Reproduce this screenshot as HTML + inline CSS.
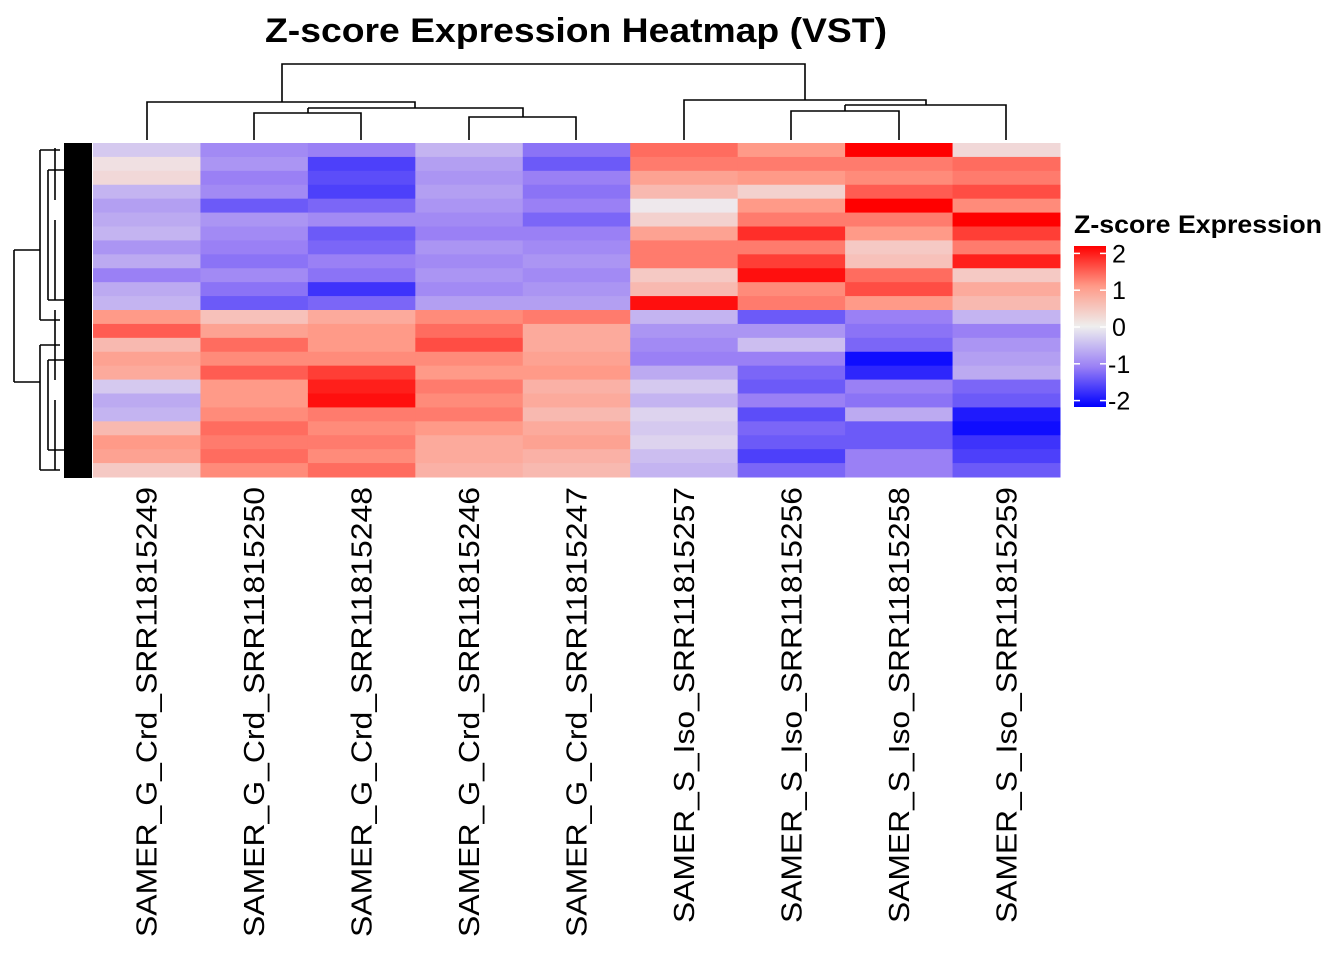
<!DOCTYPE html>
<html><head><meta charset="utf-8"><style>
html,body{margin:0;padding:0;background:#fff;}
svg{display:block;font-family:"Liberation Sans",Arial,sans-serif;}
</style></head><body>
<svg id="chart" width="1344" height="960" viewBox="0 0 1344 960" xmlns="http://www.w3.org/2000/svg">
<text x="265" y="42" font-size="34" font-weight="bold" textLength="622" lengthAdjust="spacingAndGlyphs">Z-score Expression Heatmap (VST)</text>
<g id="heat"></g>
<g id="coldend" stroke="#000" stroke-width="1.6" fill="none">
<path d="M147,140V102H415V108 M282,102V64H805V100 M308,108V113 M254,140V113H361V140 M308,108H523V117 M469,140V117H576V140 M415,102V108"/>
<path d="M684,140V100H926V105 M845,105H1006V140 M791,140V111H899V140 M845,111V105"/>
</g>
<g id="rowdend" stroke="#000" stroke-width="1.6" fill="none">
<path d="M14,250V382 M14,250H40 M14,382H40 M40,150V320 M40,345V470 M40,150H60 M40,320H60 M40,345H60 M40,470H60 M48,170V300 M48,360V450 M48,170H65 M48,300H65 M48,360H65 M48,450H65 M55,148V200 M55,220V300 M55,310V380 M55,400V470"/>
<rect x="64" y="143" width="28" height="335" fill="#000" stroke="none"/>
</g>
<g id="labels"></g>
<g id="legend">
<text x="1074" y="233" font-size="25" font-weight="bold" textLength="248" lengthAdjust="spacingAndGlyphs">Z-score Expression</text>
<defs><linearGradient id="lg" x1="0" y1="0" x2="0" y2="1">
<stop offset="0" stop-color="#ff0000"/><stop offset="0.25" stop-color="#ff9a88"/><stop offset="0.5" stop-color="#eeeeee"/><stop offset="0.75" stop-color="#9a80f5"/><stop offset="1" stop-color="#0000ff"/></linearGradient></defs>
<rect x="1074" y="246" width="32" height="161" fill="url(#lg)"/>
<g id="legticks"></g>
</g>
</svg>
<script>
const samples = ["SAMER_G_Crd_SRR11815249","SAMER_G_Crd_SRR11815250","SAMER_G_Crd_SRR11815248","SAMER_G_Crd_SRR11815246","SAMER_G_Crd_SRR11815247","SAMER_S_Iso_SRR11815257","SAMER_S_Iso_SRR11815256","SAMER_S_Iso_SRR11815258","SAMER_S_Iso_SRR11815259"];
const col249 = [-0.3,0.1,0.2,-0.5,-0.7,-0.6,-0.5,-0.8,-0.6,-1.0,-0.6,-0.5, 1.0,1.4,0.6,0.9,0.8,-0.3,-0.6,-0.5,0.6,1.0,0.9,0.4];
const col250 = [-0.9,-0.8,-1.0,-0.9,-1.3,-0.8,-0.9,-1.0,-1.1,-0.9,-1.1,-1.3, 0.5,0.9,1.3,1.1,1.4,1.0,1.0,1.1,1.3,1.2,1.3,1.1];
const col248 = [-1.0,-1.5,-1.4,-1.5,-1.2,-0.9,-1.3,-1.2,-1.0,-1.1,-1.6,-1.2, 0.8,1.0,1.0,1.1,1.6,1.8,1.9,1.2,1.1,1.2,1.1,1.3];
const col246 = [-0.5,-0.7,-0.8,-0.7,-0.8,-0.9,-1.0,-0.8,-0.9,-0.8,-0.9,-0.7, 1.1,1.3,1.5,1.1,1.0,1.2,1.1,1.2,1.0,0.8,0.8,0.7];
const col247 = [-1.1,-1.3,-1.0,-1.1,-1.0,-1.2,-1.0,-0.9,-0.8,-0.9,-0.8,-0.7, 1.2,0.8,0.8,0.9,1.0,0.7,0.8,0.6,0.8,0.9,0.7,0.6];
const col257 = [1.3,1.2,0.9,0.6,0.0,0.3,0.9,1.2,1.2,0.4,0.6,1.9, -0.5,-0.8,-0.9,-1.0,-0.6,-0.3,-0.5,-0.2,-0.3,-0.2,-0.4,-0.5];
const col256 = [1.0,1.2,1.0,0.3,1.0,1.2,1.7,1.2,1.6,1.9,1.1,1.2, -1.3,-0.8,-0.4,-1.0,-1.2,-1.3,-1.0,-1.4,-1.2,-1.3,-1.5,-1.2];
const col258 = [2.0,1.2,1.1,1.4,2.0,1.2,1.0,0.4,0.5,1.3,1.5,1.0, -1.0,-1.1,-1.2,-1.9,-1.7,-1.0,-1.1,-0.6,-1.3,-1.3,-1.0,-1.0];
const col259 = [0.2,1.3,1.2,1.5,1.1,2.0,1.6,1.2,1.8,0.4,0.8,0.6, -0.5,-1.0,-0.8,-0.7,-0.6,-1.2,-1.3,-1.8,-1.9,-1.6,-1.5,-1.3];
const legendTicks = [2,1,0,-1,-2];

const columns = [col249,col250,col248,col246,col247,col257,col256,col258,col259];
const NS = "http://www.w3.org/2000/svg";
const X0 = 93, X1 = 1060, Y0 = 143, Y1 = 477;
const nCol = columns.length, nRow = col249.length;
const xPos = i => X0 + (X1 - X0) * i / nCol;
const yPos = j => Y0 + (Y1 - Y0) * j / nRow;
const stops = [[-2,[0,0,255]],[-1,[154,128,245]],[0,[238,232,236]],[1,[255,154,136]],[2,[255,0,0]]];
function color(v){
  v = Math.max(-2, Math.min(2, v));
  for (let k = 0; k < stops.length - 1; k++) {
    const [a, ca] = stops[k], [b, cb] = stops[k+1];
    if (v <= b) { const t = (v - a) / (b - a);
      return "rgb(" + ca.map((c, i) => Math.round(c + (cb[i] - c) * t)).join(",") + ")"; }
  }
  return "rgb(255,0,0)";
}
const heat = document.getElementById("heat");
columns.forEach((col, i) => {
  col.forEach((v, j) => {
    const r = document.createElementNS(NS, "rect");
    r.setAttribute("x", xPos(i)); r.setAttribute("y", yPos(j));
    r.setAttribute("width", xPos(i+1) - xPos(i) + 0.5);
    r.setAttribute("height", yPos(j+1) - yPos(j) + 0.5);
    r.setAttribute("fill", color(v));
    
    
    heat.appendChild(r);
  });
});
const labels = document.getElementById("labels");
samples.forEach((s, i) => {
  const cx = (xPos(i) + xPos(i+1)) / 2 + 10;
  const t = document.createElementNS(NS, "text");
  t.setAttribute("transform", "translate(" + cx + ",487) rotate(-90)");
  t.setAttribute("text-anchor", "end");
  t.setAttribute("font-size", "29");
  t.setAttribute("textLength", s.indexOf("Iso") > 0 ? "436" : "450");
  t.setAttribute("lengthAdjust", "spacingAndGlyphs");
  t.textContent = s;
  
  
  labels.appendChild(t);
});
const lt = document.getElementById("legticks");
const ly = v => 327 - v * 36.8;
legendTicks.forEach(v => {
  const y = ly(v);
  [[1074,1080],[1100,1106]].forEach(([a,b]) => {
    const l = document.createElementNS(NS, "line");
    l.setAttribute("x1", a); l.setAttribute("x2", b); l.setAttribute("y1", y); l.setAttribute("y2", y);
    l.setAttribute("stroke", "#fff"); l.setAttribute("stroke-width", "1.5");
    
    
    lt.appendChild(l);
  });
  const t = document.createElementNS(NS, "text");
  t.setAttribute("x", v < 0 ? 1108 : 1112); t.setAttribute("y", y + 9);
  t.setAttribute("font-size", "25");
  t.textContent = String(v);
  
  
  lt.appendChild(t);
});
</script>
</body></html>
